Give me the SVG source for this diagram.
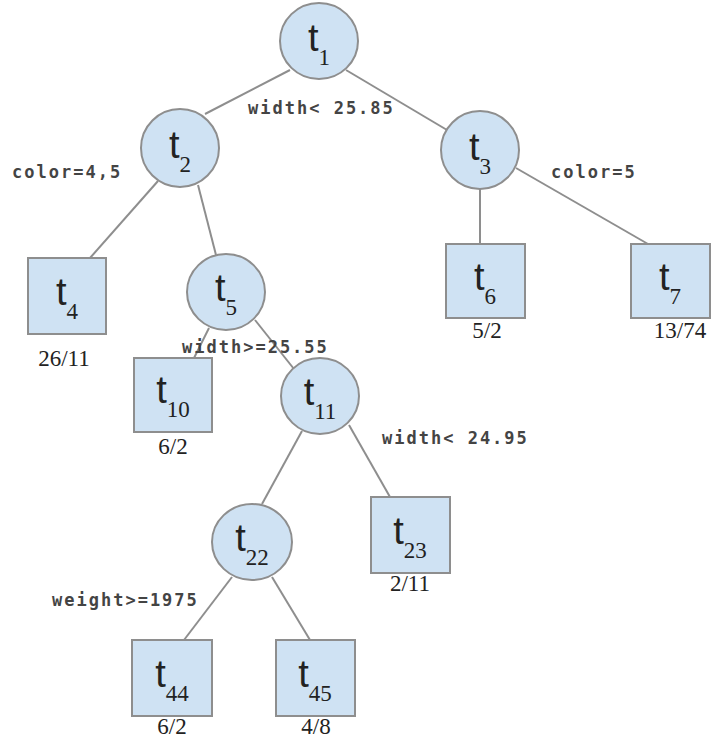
<svg xmlns="http://www.w3.org/2000/svg" width="713" height="738" viewBox="0 0 713 738">
<style>
.n{fill:#cfe2f3;stroke:#8e8e8e;stroke-width:2}
.e{stroke:#8e8e8e;stroke-width:2;fill:none}
.t{font-family:"Liberation Sans",Arial,sans-serif;font-size:38px;fill:#222;text-anchor:middle}
.s{font-family:"Liberation Serif","Times New Roman",serif;font-size:23px}
.c{font-family:"DejaVu Sans Mono","Liberation Mono",monospace;font-size:17px;font-weight:bold;fill:#444;letter-spacing:2px}
.v{font-family:"Liberation Serif","Times New Roman",serif;font-size:23px;fill:#222;text-anchor:middle}
</style>
<rect width="713" height="738" fill="#fff"/>
<g id="connectors">
<line class="e" x1="290" y1="70" x2="205" y2="114"/>
<line class="e" x1="346" y1="70" x2="447" y2="130"/>
<line class="e" x1="158" y1="181" x2="90" y2="258"/>
<line class="e" x1="198" y1="185" x2="216" y2="255"/>
<line class="e" x1="480" y1="189" x2="480" y2="244"/>
<line class="e" x1="516" y1="168" x2="648" y2="244"/>
<line class="e" x1="209" y1="328" x2="194" y2="358"/>
<line class="e" x1="255" y1="320" x2="294" y2="369"/>
<line class="e" x1="302" y1="431" x2="262" y2="504"/>
<line class="e" x1="349" y1="425" x2="390" y2="497"/>
<line class="e" x1="232" y1="577" x2="184" y2="640"/>
<line class="e" x1="272" y1="577" x2="310" y2="640"/>
</g>
<g id="edge-labels">
<text class="c" x="248" y="114">width&lt; 25.85</text>
<text class="c" x="12" y="178">color=4,5</text>
<text class="c" x="551" y="178">color=5</text>
<text class="c" x="182" y="353">width&gt;=25.55</text>
<text class="c" x="382" y="444">width&lt; 24.95</text>
<text class="c" x="52" y="606">weight&gt;=1975</text>
</g>
<g id="t1"><ellipse class="n" cx="319" cy="41" rx="39" ry="38"/><text class="t" x="319" y="51">t<tspan class="s" dy="14">1</tspan></text></g>
<g id="t2"><ellipse class="n" cx="180" cy="148" rx="39" ry="39"/><text class="t" x="180" y="158">t<tspan class="s" dy="14">2</tspan></text></g>
<g id="t3"><ellipse class="n" cx="480" cy="150" rx="39" ry="39"/><text class="t" x="480" y="160">t<tspan class="s" dy="14">3</tspan></text></g>
<g id="t4"><rect class="n" x="28" y="258" width="78" height="76"/><text class="t" x="67" y="305">t<tspan class="s" dy="14">4</tspan></text><text class="v" x="64" y="366">26/11</text></g>
<g id="t5"><ellipse class="n" cx="226" cy="292" rx="39" ry="38"/><text class="t" x="226" y="301">t<tspan class="s" dy="14">5</tspan></text></g>
<g id="t6"><rect class="n" x="446" y="244" width="79" height="74"/><text class="t" x="485" y="290">t<tspan class="s" dy="14">6</tspan></text><text class="v" x="487" y="338">5/2</text></g>
<g id="t7"><rect class="n" x="631" y="244" width="79" height="74"/><text class="t" x="670" y="290">t<tspan class="s" dy="14">7</tspan></text><text class="v" x="680" y="338">13/74</text></g>
<g id="t10"><rect class="n" x="134" y="358" width="78" height="74"/><text class="t" x="173" y="403">t<tspan class="s" dy="14">10</tspan></text><text class="v" x="173" y="454">6/2</text></g>
<g id="t11"><ellipse class="n" cx="320" cy="396" rx="39" ry="38"/><text class="t" x="320" y="405">t<tspan class="s" dy="14">11</tspan></text></g>
<g id="t22"><ellipse class="n" cx="252" cy="542" rx="40" ry="38"/><text class="t" x="252" y="551">t<tspan class="s" dy="14">22</tspan></text></g>
<g id="t23"><rect class="n" x="371" y="497" width="79" height="76"/><text class="t" x="410" y="544">t<tspan class="s" dy="14">23</tspan></text><text class="v" x="410" y="591">2/11</text></g>
<g id="t44"><rect class="n" x="132" y="640" width="80" height="76"/><text class="t" x="172" y="687">t<tspan class="s" dy="14">44</tspan></text><text class="v" x="172" y="734">6/2</text></g>
<g id="t45"><rect class="n" x="276" y="640" width="79" height="76"/><text class="t" x="315" y="687">t<tspan class="s" dy="14">45</tspan></text><text class="v" x="316" y="734">4/8</text></g>
</svg>
